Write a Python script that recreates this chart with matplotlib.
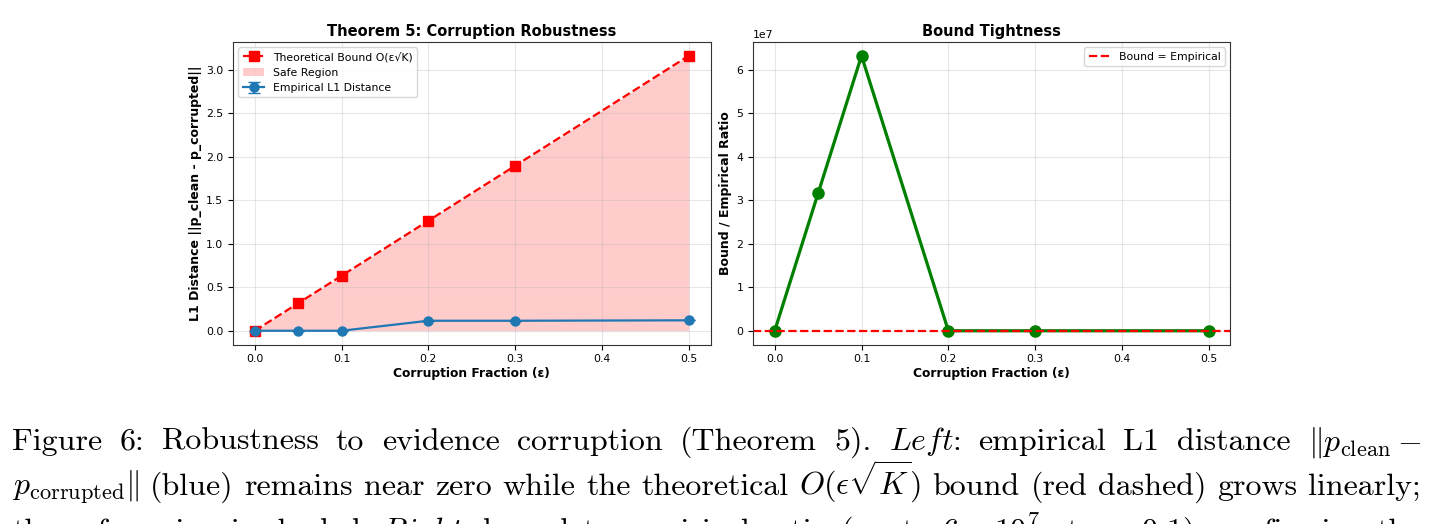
import numpy as np
import matplotlib
matplotlib.use('Agg')
import matplotlib.pyplot as plt

plt.rcParams['mathtext.fontset'] = 'cm'

# corruption fractions and measured values
eps = [0.0, 0.05, 0.1, 0.2, 0.3, 0.5]
bound = [0.0, 0.316, 0.632, 1.265, 1.897, 3.162]
empirical = [0.0, 0.0, 0.0, 0.115, 0.115, 0.12]
empirical_err = [0.0, 0.0, 0.0, 0.0, 0.0, 0.0]
ratio = [0.0, 3.16e7, 6.32e7, 11.0, 16.5, 26.4]
xticks = [0.0, 0.1, 0.2, 0.3, 0.4, 0.5]

# caption, one list of words per printed line
caption_lines = [
    ['Figure', '6:', 'Robustness', 'to', 'evidence', 'corruption', '(Theorem', '5).',
     r'$\mathit{Left}$:', 'empirical', 'L1', 'distance', r'$\|p_{\mathrm{clean}}-$'],
    [r'$p_{\mathrm{corrupted}}\|$', '(blue)', 'remains', 'near', 'zero', 'while', 'the',
     'theoretical', r'$O(\epsilon\sqrt{K})$', 'bound', '(red', 'dashed)', 'grows', 'linearly;'],
    ['the', 'safe', 'region', 'is', 'shaded.', r'$\mathit{Right}$:', 'bound', 'to', 'empirical',
     'ratio', '(up', 'to', r'$6\times10^7$', 'at', r'$\epsilon=0.1$),', 'confirming', 'the'],
]
caption_baselines = [450, 495, 540]

W, H = 1435, 524
fig = plt.figure(figsize=(W / 100, H / 100), dpi=100)


def box(x0, y0, x1, y1):
    return [x0 / W, 1 - y1 / H, (x1 - x0) / W, (y1 - y0) / H]


ax1 = fig.add_axes(box(233, 42, 710.5, 344.5))
ax2 = fig.add_axes(box(753, 42, 1230.5, 344.5))

# left: corruption robustness
ax1.plot(eps, bound, 'r--s', linewidth=1.6, markersize=6.5, label='Theoretical Bound O(ε√K)')
ax1.fill_between(eps, 0, bound, color='red', alpha=0.2, linewidth=0, label='Safe Region')
ax1.errorbar(eps, empirical, yerr=empirical_err, fmt='o-', color='#1f77b4', linewidth=1.6,
             markersize=6.5, capsize=4, label='Empirical L1 Distance')
ax1.set_title('Theorem 5: Corruption Robustness', fontsize=10.5, fontweight='bold', pad=4)
ax1.set_xlabel('Corruption Fraction (ε)', fontsize=8.8, fontweight='bold', labelpad=2)
ax1.set_ylabel('L1 Distance ||p_clean - p_corrupted||', fontsize=9, fontweight='bold', labelpad=3)
ax1.legend(loc='upper left', fontsize=7.8)

# right: bound tightness
ax2.plot(eps, ratio, 'g-o', linewidth=2.3, markersize=8)
ax2.axhline(1, color='red', linestyle='--', linewidth=1.6, label='Bound = Empirical')
ax2.set_title('Bound Tightness', fontsize=10.5, fontweight='bold', pad=4)
ax2.set_xlabel('Corruption Fraction (ε)', fontsize=8.8, fontweight='bold', labelpad=2)
ax2.set_ylabel('Bound / Empirical Ratio', fontsize=9, fontweight='bold', labelpad=3)
ax2.yaxis.get_offset_text().set_fontsize(7.8)
ax2.legend(loc='upper right', fontsize=7.8)

for ax in (ax1, ax2):
    ax.set_xticks(xticks)
    ax.grid(True, alpha=0.3)
    ax.tick_params(labelsize=7.8)
    for s in ax.spines.values():
        s.set_color('#333333')

# caption, justified like the latex source
renderer = fig.canvas.get_renderer()
x_left, x_right = 12, 1421
for words, y in zip(caption_lines, caption_baselines):
    texts = [fig.text(0, 1 - y / H, w, fontsize=23, family='cmr10', va='baseline', ha='left')
             for w in words]
    widths = [t.get_window_extent(renderer).width for t in texts]
    gap = (x_right - x_left - sum(widths)) / (len(words) - 1)
    x = x_left
    for t, w in zip(texts, widths):
        t.set_x(x / W)
        x += w + gap

fig.savefig('out.png', dpi=100)
